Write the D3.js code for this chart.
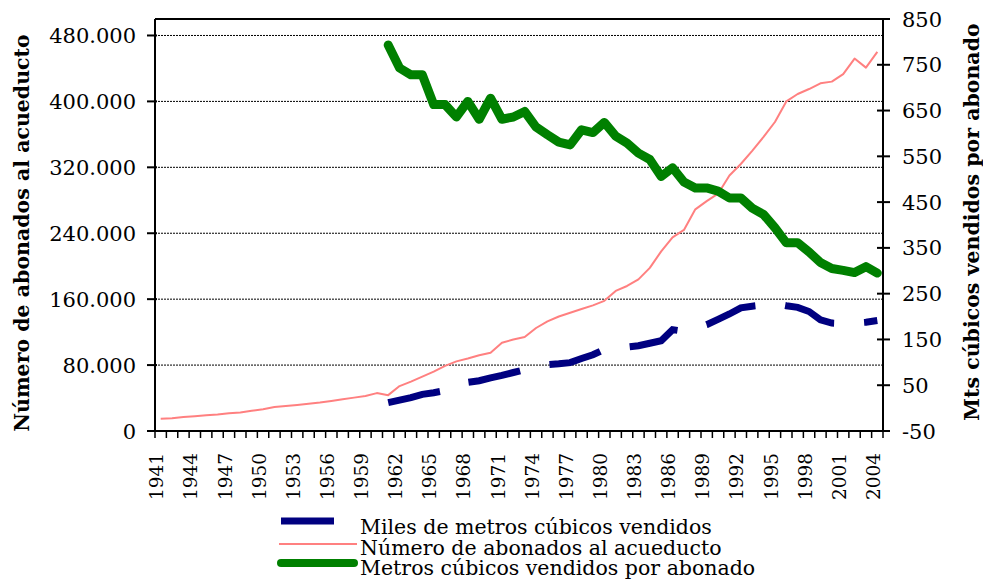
<!DOCTYPE html>
<html>
<head>
<meta charset="utf-8">
<script src="https://cdn.jsdelivr.net/npm/d3@7/dist/d3.min.js"></script>
<style>
  html, body { margin: 0; padding: 0; background: #fff; }
  svg { display: block; }
  text { font-family: "DejaVu Serif", serif; fill: #000; }
</style>
</head>
<body>
<svg id="chart" width="983" height="579"></svg>
<script>
// Categories: years on the horizontal axis
const years = [1941,1942,1943,1944,1945,1946,1947,1948,1949,1950,
  1951,1952,1953,1954,1955,1956,1957,1958,1959,1960,
  1961,1962,1963,1964,1965,1966,1967,1968,1969,1970,
  1971,1972,1973,1974,1975,1976,1977,1978,1979,1980,
  1981,1982,1983,1984,1985,1986,1987,1988,1989,1990,
  1991,1992,1993,1994,1995,1996,1997,1998,1999,2000,
  2001,2002,2003,2004];

// Thousands of cubic metres sold (left axis), from 1961
const milesM3 = [null,null,null,null,null,null,null,null,null,null,
  null,null,null,null,null,null,null,null,null,null,
  34500,37500,40500,44500,46500,49000,54000,59000,61000,64500,
  67500,71000,74500,78000,80500,81500,83000,88000,92500,99000,
  100500,102000,103500,106500,109500,123000,121000,125000,129000,135500,
  142000,149500,151500,153000,154500,152000,150000,145000,135000,131000,
  130500,131000,132000,134000];

// Number of aqueduct subscribers (left axis)
const abonados = [15000,15500,17000,18000,19000,20000,21500,22500,24500,26500,
  29000,30300,31600,33000,34500,36500,38500,40500,42500,46000,
  43500,54500,60000,66000,72000,79000,84500,88000,92000,95000,
  107000,111000,114000,125000,133000,139000,143500,148000,152500,158000,
  170000,176000,184000,198000,218000,235000,244000,269000,279000,288000,
  310000,324000,340000,357000,375000,400000,409000,415000,422000,424000,
  433000,452000,441000,460000];

// Cubic metres sold per subscriber (right axis), from 1961
const m3PorAbonado = [null,null,null,null,null,null,null,null,null,null,
  null,null,null,null,null,null,null,null,null,null,
  793,743,728,728,663,663,636,670,631,677,
  631,636,648,614,597,581,575,608,602,624,
  594,579,557,543,506,525,494,481,481,474,
  459,459,437,423,394,361,361,341,318,305,
  301,296,309,295];

// Axis ticks
const leftTicks = [0,80000,160000,240000,320000,400000,480000];
const rightTicks = [-50,50,150,250,350,450,550,650,750,850];
const yearLabels = years.filter((d, i) => i % 3 === 0);

const seriesNames = ["Miles de metros cúbicos vendidos",
  "Número de abonados al acueducto",
  "Metros cúbicos vendidos por abonado"];

const plot = { left: 155, right: 883, top: 19, bottom: 431 };

const svg = d3.select("#chart");

const x = d3.scaleBand().domain(years).range([plot.left, plot.right]).padding(0);
const bw = x.bandwidth();
const cx = d => x(d) + bw / 2;

const yL = d3.scaleLinear().domain([0, 500000]).range([plot.bottom, plot.top]);
const yR = d3.scaleLinear().domain([-50, 850]).range([plot.bottom, plot.top]);

const fmt = v => d3.format(",")(v).replace(/,/g, ".");

// Dotted gridlines on the primary value ticks
svg.append("g")
  .selectAll("line")
  .data(leftTicks.filter(d => d > 0))
  .join("line")
  .attr("x1", plot.left).attr("x2", plot.right)
  .attr("y1", d => yL(d)).attr("y2", d => yL(d))
  .attr("stroke", "#000").attr("stroke-width", 1)
  .attr("stroke-dasharray", "2 1");

// Series lines
const lineL = vals => d3.line()
  .defined(i => vals[i] != null)
  .x(i => cx(years[i]))
  .y(i => yL(vals[i]))(d3.range(years.length));

const lineR = vals => d3.line()
  .defined(i => vals[i] != null)
  .x(i => cx(years[i]))
  .y(i => yR(vals[i]))(d3.range(years.length));

svg.append("path")
  .attr("d", lineL(milesM3))
  .attr("fill", "none").attr("stroke", "#000080")
  .attr("stroke-width", 7).attr("stroke-dasharray", "53 30")
  .attr("stroke-linecap", "butt").attr("stroke-linejoin", "miter");

svg.append("path")
  .attr("d", lineL(abonados))
  .attr("fill", "none").attr("stroke", "#ff8080")
  .attr("stroke-width", 2).attr("stroke-linejoin", "round");

svg.append("path")
  .attr("d", lineR(m3PorAbonado))
  .attr("fill", "none").attr("stroke", "#008000")
  .attr("stroke-width", 9)
  .attr("stroke-linecap", "round").attr("stroke-linejoin", "round");

// Frame: top edge
svg.append("line")
  .attr("x1", plot.left).attr("x2", plot.right)
  .attr("y1", plot.top).attr("y2", plot.top)
  .attr("stroke", "#000").attr("stroke-width", 2);

// Left axis
const gL = svg.append("g");
gL.append("line")
  .attr("x1", plot.left).attr("x2", plot.left)
  .attr("y1", plot.top).attr("y2", plot.bottom)
  .attr("stroke", "#000").attr("stroke-width", 2);
gL.selectAll("line.tick").data(leftTicks).join("line")
  .attr("class", "tick")
  .attr("x1", plot.left - 8).attr("x2", plot.left + 2)
  .attr("y1", d => yL(d)).attr("y2", d => yL(d))
  .attr("stroke", "#000").attr("stroke-width", 2);
gL.selectAll("text").data(leftTicks).join("text")
  .attr("x", 136).attr("y", d => yL(d)).attr("dy", "0.36em")
  .attr("text-anchor", "end").attr("font-size", 21)
  .text(fmt);

// Right axis
const gR = svg.append("g");
gR.append("line")
  .attr("x1", plot.right).attr("x2", plot.right)
  .attr("y1", plot.top).attr("y2", plot.bottom)
  .attr("stroke", "#000").attr("stroke-width", 2);
gR.selectAll("line.tick").data(rightTicks).join("line")
  .attr("class", "tick")
  .attr("x1", plot.right - 6).attr("x2", plot.right + 7)
  .attr("y1", d => yR(d)).attr("y2", d => yR(d))
  .attr("stroke", "#000").attr("stroke-width", 2);
gR.selectAll("text").data(rightTicks).join("text")
  .attr("x", 902).attr("y", d => yR(d)).attr("dy", "0.36em")
  .attr("text-anchor", "start").attr("font-size", 21)
  .text(d => String(d));

// Category axis
const gX = svg.append("g");
gX.append("line")
  .attr("x1", plot.left).attr("x2", plot.right)
  .attr("y1", plot.bottom).attr("y2", plot.bottom)
  .attr("stroke", "#000").attr("stroke-width", 2);
gX.selectAll("line.tick").data(years.concat(["end"])).join("line")
  .attr("class", "tick")
  .attr("x1", d => d === "end" ? plot.right : x(d))
  .attr("x2", d => d === "end" ? plot.right : x(d))
  .attr("y1", plot.bottom).attr("y2", plot.bottom + 7)
  .attr("stroke", "#000").attr("stroke-width", 1.5);
gX.selectAll("text").data(yearLabels).join("text")
  .attr("transform", d => `translate(${cx(d) - 4},453) rotate(-90)`)
  .attr("dy", "0.36em")
  .attr("text-anchor", "end").attr("font-size", 18.5)
  .text(d => d);

// Axis titles
svg.append("text")
  .attr("transform", "translate(22,233) rotate(-90)")
  .attr("dy", "0.36em")
  .attr("text-anchor", "middle").attr("font-size", 20.5).attr("font-weight", "bold")
  .text("Número de abonados al acueducto");

svg.append("text")
  .attr("transform", "translate(972,222) rotate(-90)")
  .attr("dy", "0.36em")
  .attr("text-anchor", "middle").attr("font-size", 20.5).attr("font-weight", "bold")
  .text("Mts cúbicos vendidos por abonado");

// Legend
const legend = svg.append("g");
const legendStyles = [
  { stroke: "#000080", width: 7, dash: "53 30", cap: "butt", x1: 281, x2: 357 },
  { stroke: "#ff8080", width: 2, dash: null, cap: "butt", x1: 279, x2: 357 },
  { stroke: "#008000", width: 8, dash: null, cap: "round", x1: 281, x2: 354 }
];
const legendY = [521, 544, 563];
const legendBase = [534, 555, 575];
seriesNames.forEach((name, i) => {
  const s = legendStyles[i];
  legend.append("line")
    .attr("x1", s.x1).attr("x2", s.x2)
    .attr("y1", legendY[i]).attr("y2", legendY[i])
    .attr("stroke", s.stroke).attr("stroke-width", s.width)
    .attr("stroke-linecap", s.cap)
    .attr("stroke-dasharray", s.dash);
  legend.append("text")
    .attr("x", 360).attr("y", legendBase[i])
    .attr("font-size", 20.5)
    .text(name);
});
</script>
</body>
</html>
